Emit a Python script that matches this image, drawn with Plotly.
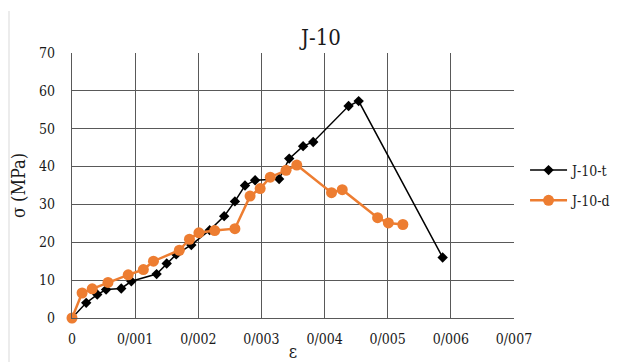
import plotly.graph_objects as go

t_strain = [0, 0.000225, 0.0004, 0.00054, 0.00078, 0.00094, 0.00134, 0.0015, 0.00165,
            0.00189, 0.00218, 0.00241, 0.00258, 0.00274, 0.0029, 0.00328, 0.00344,
            0.00366, 0.00382, 0.00438, 0.00454, 0.00587]
t_stress = [0, 4.0, 6.2, 7.5, 7.8, 9.7, 11.6, 14.4, 16.8,
            19.3, 23.2, 26.9, 30.8, 35.0, 36.4, 36.7, 42.1,
            45.4, 46.5, 56.0, 57.3, 16.0]

d_strain = [0, 0.00016, 0.00032, 0.00057, 0.00089, 0.00113, 0.00129, 0.0017, 0.00186,
            0.00201, 0.00226, 0.00258, 0.00282, 0.00298, 0.00314, 0.00339, 0.00356,
            0.00411, 0.00428, 0.00484, 0.00501, 0.00524]
d_stress = [0, 6.6, 7.7, 9.4, 11.4, 12.8, 15.0, 17.9, 20.8,
            22.5, 23.1, 23.6, 32.2, 34.2, 37.2, 39.0, 40.4,
            33.1, 33.9, 26.5, 25.1, 24.7]

x_ticks = [0, 0.001, 0.002, 0.003, 0.004, 0.005, 0.006, 0.007]
x_ticktext = ["0", "0/001", "0/002", "0/003", "0/004", "0/005", "0/006", "0/007"]
y_ticks = [0, 10, 20, 30, 40, 50, 60, 70]

# page body has an 8px margin, so the figure is a bit smaller than the window
W, H = 616, 354
L, R, T, B = 64, 110, 45, 44

fig = go.Figure()
fig.add_trace(go.Scatter(
    x=t_strain, y=t_stress, name="J-10-t", mode="lines+markers",
    legendgroup="t",
    line=dict(color="black", width=1.5),
    marker=dict(symbol="diamond", size=8, color="black"),
    cliponaxis=False,
))
fig.add_trace(go.Scatter(
    x=d_strain, y=d_stress, name="J-10-d", mode="lines+markers",
    legendgroup="d",
    line=dict(color="#ED7D31", width=2.5),
    marker=dict(symbol="circle", size=11, color="#ED7D31"),
    cliponaxis=False,
))

font = "'DejaVu Serif Condensed', 'DejaVu Serif', serif"
txt = "#1a1a1a"
fig.update_layout(
    width=W, height=H,
    margin=dict(l=L, r=R, t=T, b=B, autoexpand=False),
    paper_bgcolor="white", plot_bgcolor="white",
    font=dict(family=font, color=txt, size=14),
    title=dict(text="J-10", x=313 / W, xanchor="center",
               y=1 - 29 / H, yanchor="middle",
               font=dict(family=font, size=22, color=txt)),
    xaxis=dict(range=[0, 0.007], tickvals=x_ticks, ticktext=x_ticktext,
               showgrid=True, gridcolor="#595959", gridwidth=1.2,
               zeroline=False, showline=True, linecolor="#595959", linewidth=1.2,
               ticks="", ticklabelstandoff=8, automargin=False,
               tickfont=dict(family=font, size=14, color=txt),
               title=dict(text="ε", font=dict(family=font, size=18, color=txt), standoff=0)),
    yaxis=dict(range=[0, 70], tickvals=y_ticks,
               showgrid=True, gridcolor="#595959", gridwidth=1.2,
               zeroline=False, showline=True, linecolor="#595959", linewidth=1.2,
               ticks="", ticklabelstandoff=13, automargin=False,
               tickfont=dict(family=font, size=14, color=txt),
               title=dict(text="σ (MPa)", font=dict(family=font, size=18, color=txt), standoff=8)),
    legend=dict(x=1.025, y=0.5, xanchor="left", yanchor="middle",
                font=dict(family=font, size=14, color=txt), bgcolor="rgba(0,0,0,0)",
                traceorder="grouped", tracegroupgap=9, itemwidth=37),
    showlegend=True,
)

# faint chart-area border at the left
fig.add_shape(type="line", xref="paper", yref="paper",
              x0=(1 - L) / (W - L - R), x1=(1 - L) / (W - L - R),
              y0=-B / (H - T - B), y1=(H - 3 - B) / (H - T - B),
              line=dict(color="#D9D9D9", width=1))

fig.write_html("out.html")
